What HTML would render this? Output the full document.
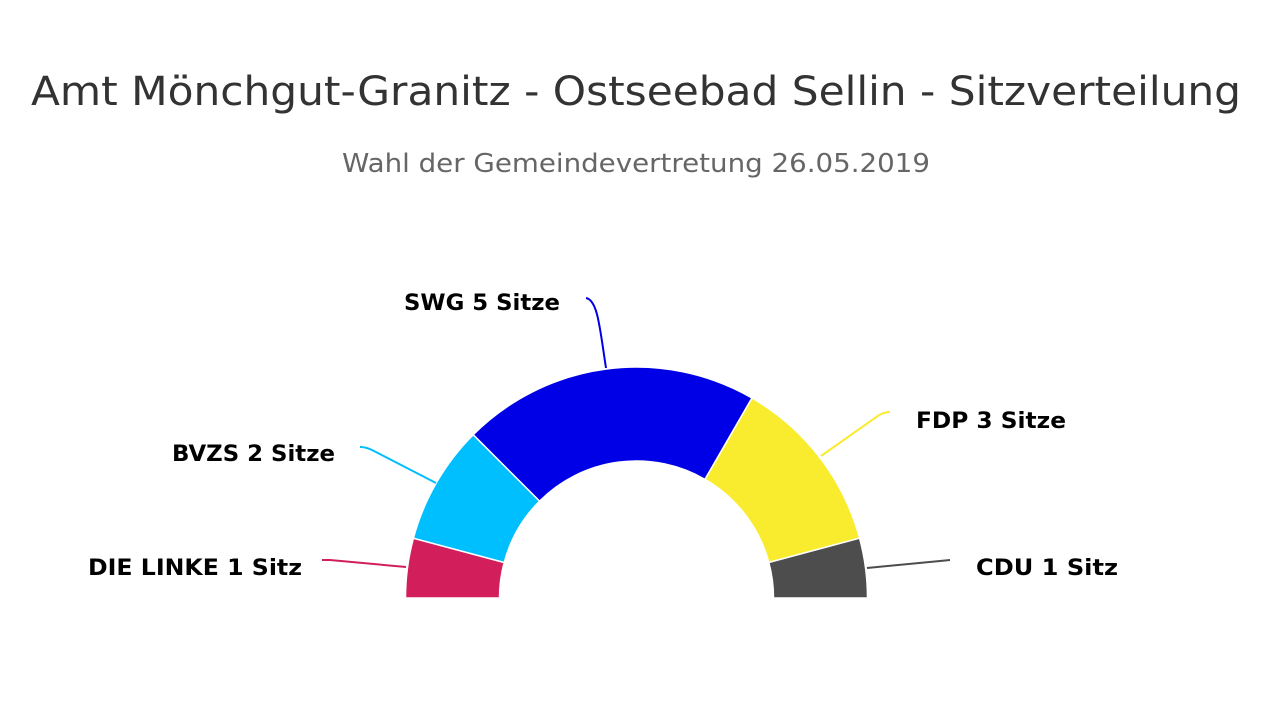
<!DOCTYPE html>
<html><head><meta charset="utf-8"><style>
html,body{margin:0;padding:0;background:#fff;}
svg{display:block;}
</style></head><body>
<svg width="1280" height="720" xmlns="http://www.w3.org/2000/svg" font-family="'DejaVu Sans','Liberation Sans',sans-serif">
<rect width="1280" height="720" fill="#fff"/>
<text x="636" y="105" text-anchor="middle" font-size="40" fill="#333" textLength="1210" lengthAdjust="spacingAndGlyphs">Amt Mönchgut-Granitz - Ostseebad Sellin - Sitzverteilung</text>
<text x="636" y="172" text-anchor="middle" font-size="26" fill="#666" textLength="588" lengthAdjust="spacingAndGlyphs">Wahl der Gemeindevertretung 26.05.2019</text>
<g stroke="#fff" stroke-width="1.5">
<path d="M405.5 598 A231 231 0 0 1 413.4 538.2 L504.2 562.5 A137 137 0 0 0 499.5 598 Z" fill="#d21f5b"/>
<path d="M413.4 538.2 A231 231 0 0 1 473.2 434.7 L539.6 501.1 A137 137 0 0 0 504.2 562.5 Z" fill="#00bfff"/>
<path d="M473.2 434.7 A231 231 0 0 1 752 398 L705 479.4 A137 137 0 0 0 539.6 501.1 Z" fill="#0000e6"/>
<path d="M752 398 A231 231 0 0 1 859.6 538.2 L768.8 562.5 A137 137 0 0 0 705 479.4 Z" fill="#f9eb2e"/>
<path d="M859.6 538.2 A231 231 0 0 1 867.5 598 L773.5 598 A137 137 0 0 0 768.8 562.5 Z" fill="#4d4d4d"/>
</g>
<g fill="none" stroke-width="2">
<path d="M606 368 C600 330 598 300 586 298" stroke="#0000e6"/>
<path d="M821 456 L875 418 Q882 412 890 412" stroke="#f9eb2e"/>
<path d="M436 483 L372 450 Q366 447 360 447" stroke="#00bfff"/>
<path d="M406 567 L330 560 L322 560" stroke="#d21f5b"/>
<path d="M867 568 L940 561 L950 560" stroke="#4d4d4d"/>
</g>
<g font-size="22" font-weight="bold" fill="#000">
<text x="560" y="310" text-anchor="end" textLength="156" lengthAdjust="spacingAndGlyphs">SWG 5 Sitze</text>
<text x="916" y="428" textLength="150" lengthAdjust="spacingAndGlyphs">FDP 3 Sitze</text>
<text x="335" y="461" text-anchor="end" textLength="163" lengthAdjust="spacingAndGlyphs">BVZS 2 Sitze</text>
<text x="302" y="575" text-anchor="end" textLength="214" lengthAdjust="spacingAndGlyphs">DIE LINKE 1 Sitz</text>
<text x="976" y="575" textLength="142" lengthAdjust="spacingAndGlyphs">CDU 1 Sitz</text>
</g>
</svg>
</body></html>
